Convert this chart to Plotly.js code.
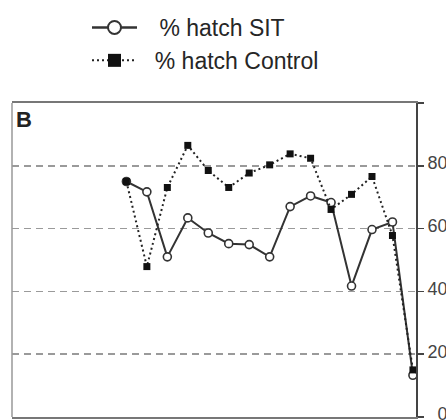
<!DOCTYPE html>
<html>
<head>
<meta charset="utf-8">
<script src="https://cdn.plot.ly/plotly-3.0.1.min.js"></script>
<style>html,body{margin:0;padding:0;background:#fff;}#chart{width:446px;height:420px;}</style>
</head>
<body>
<div id="chart"></div>
<script>
// Sample index (x) and values
var samples = [1, 2, 3, 4, 5, 6, 7, 8, 9, 10, 11, 12, 13, 14, 15];
var hatchSIT = [75, 71.7, 51, 63.4, 58.6, 55.2, 54.9, 51, 67, 70.4, 68.3, 41.7, 59.7, 62.1, 13.3];
var hatchControl = [75, 47.9, 73.1, 86.5, 78.5, 73.1, 77.7, 80.3, 83.8, 82.4, 66.1, 70.9, 76.6, 57.8, 15];
var yTickVals = [0, 20, 40, 60, 80, 100];
var yTickText = ['\u20070', '20', '40', '60', '80', ''];
var seriesNames = ['% hatch SIT', '% hatch Control'];

var font = '"Liberation Sans", Arial, Helvetica, sans-serif';

var traces = [
  {
    x: samples, y: hatchSIT, type: 'scatter', mode: 'lines+markers',
    name: seriesNames[0], showlegend: false,
    line: {color: '#333', width: 2},
    marker: {symbol: 'circle', size: 8, color: '#fff', line: {color: '#333', width: 1.6}}
  },
  {
    x: samples, y: hatchControl, type: 'scatter', mode: 'lines+markers',
    name: seriesNames[1], showlegend: false,
    line: {color: '#222', width: 2, dash: '2px,3px'},
    marker: {symbol: 'square', size: 7, color: '#111'}
  },
  // legend entries
  {
    x: [null], y: [null], type: 'scatter', mode: 'lines+markers',
    name: '\u00a0\u00a0\u2009' + seriesNames[0],
    line: {color: '#333', width: 2.5},
    marker: {symbol: 'circle', size: 13, color: '#fff', line: {color: '#333', width: 2}}
  },
  {
    x: [null], y: [null], type: 'scatter', mode: 'lines+markers',
    name: '\u00a0\u00a0' + seriesNames[1],
    line: {color: '#222', width: 2, dash: '2px,3px'},
    marker: {symbol: 'square', size: 13, color: '#111'}
  }
];

var layout = {
  width: 446, height: 420,
  margin: {l: 12, r: 30, t: 103, b: 3, autoexpand: false},
  paper_bgcolor: '#fff', plot_bgcolor: '#fff',
  font: {family: font, color: '#333'},
  showlegend: true,
  legend: {
    xref: 'container', yref: 'container', x: 87 / 446, y: 1 - 6 / 420,
    xanchor: 'left', yanchor: 'top',
    font: {family: font, size: 23, color: '#262626'},
    itemwidth: 45, tracegroupgap: 0, bgcolor: 'rgba(0,0,0,0)'
  },
  xaxis: {
    range: [-4.59, 15.15], showgrid: false, zeroline: false,
    showticklabels: false, ticks: '',
    showline: true, mirror: true, linecolor: '#777', linewidth: 2
  },
  yaxis: {
    side: 'right', range: [0, 100], tickvals: yTickVals, ticktext: yTickText,
    ticks: 'outside', ticklen: 6, tickwidth: 1.5, tickcolor: '#444',
    tickfont: {family: font, size: 18, color: '#444'},
    ticklabelshift: -3, ticklabeloverflow: 'allow',
    showline: true, linecolor: '#444', linewidth: 2,
    showgrid: true, gridcolor: '#9a9a9a', gridwidth: 1.5, griddash: '7px,5px',
    zeroline: false
  },
  shapes: [
    {type: 'line', xref: 'paper', yref: 'paper', x0: 0, x1: 0, y0: 0, y1: 1,
     line: {color: '#999', width: 1.5}}
  ],
  annotations: [
    {text: '<b>B</b>', xref: 'paper', yref: 'paper', x: 0.006, y: 0.995,
     xanchor: 'left', yanchor: 'top', showarrow: false,
     font: {family: font, size: 22, color: '#222'}}
  ]
};

Plotly.newPlot('chart', traces, layout, {displayModeBar: false, staticPlot: true});
</script>
</body>
</html>
